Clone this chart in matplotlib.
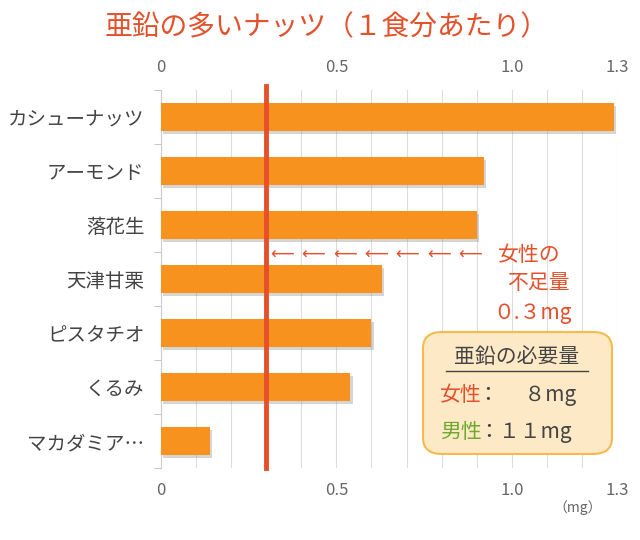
import matplotlib.pyplot as plt
import matplotlib.patheffects as pe
from matplotlib.patches import FancyBboxPatch
from matplotlib.lines import Line2D

plt.rcParams['font.family'] = ['Noto Sans CJK JP', 'DejaVu Sans']

nuts = ['カシューナッツ', 'アーモンド', '落花生', '天津甘栗', 'ピスタチオ', 'くるみ', 'マカダミア…']
zinc = [1.29, 0.92, 0.9, 0.63, 0.6, 0.54, 0.14]
shortfall = 0.3
xticks = [0, 0.5, 1.0, 1.3]
xlabels = ['0', '0.5', '1.0', '1.3']

red = '#e5502b'
green = '#6ea82c'
dark = '#444444'

fig = plt.figure(figsize=(6.4, 5.4), dpi=100)
ax = fig.add_axes([0.2516, 0.1333, 0.7125, 0.7])

ys = list(range(len(nuts)))
bars = ax.barh(ys, zinc, height=0.52, color='#f7921e', zorder=3)
for b in bars:
    b.set_path_effects([pe.SimplePatchShadow(offset=(1.5, -2), shadow_rgbFace='#888888', alpha=0.35),
                        pe.Normal()])

ax.axvline(shortfall, color=red, lw=3.5, zorder=4, ymin=0, ymax=1.01, clip_on=False)

ax.set_xlim(0, 1.3)
ax.set_ylim(len(nuts) - 0.5, -0.5)
ax.set_xticks(xticks)
ax.set_xticklabels(xlabels)
ax.set_xticks([i / 10 for i in range(14)], minor=True)
ax.grid(axis='x', which='both', color='#dddddd', lw=0.8, zorder=0)
ax.tick_params(axis='x', which='both', length=0, labelsize=12, labelcolor='#666666',
               top=True, labeltop=True, pad=10)
ax.set_yticks(ys)
ax.set_yticklabels(nuts, fontsize=14, color=dark)
ax.set_yticks([i + 0.5 for i in range(-1, len(nuts))], minor=True)
ax.tick_params(axis='y', which='major', length=0, pad=12)
ax.tick_params(axis='y', which='minor', length=5, color='#bbbbbb')
for s in ['top', 'right', 'bottom']:
    ax.spines[s].set_visible(False)
ax.spines['left'].set_color('#cccccc')

fig.text(0.511, 0.95, '亜鉛の多いナッツ（１食分あたり）', ha='center', va='center',
         fontsize=20, color=red)

# shortfall annotation
for i in range(7):
    ax.text(0.345 + i * 0.0895, 2.55, '⟵', color=red, fontsize=12, va='center', ha='center',
            family='DejaVu Sans', zorder=5)
ax.text(1.05, 2.55, '女性の', color=red, fontsize=15, va='center', ha='center', zorder=5)
ax.text(1.075, 3.08, '不足量', color=red, fontsize=15, va='center', ha='center', zorder=5)
ax.text(1.06, 3.63, '０.３mg', color=red, fontsize=15, va='center', ha='center', zorder=5)

# info box
box = FancyBboxPatch((423 / 640, 1 - 454 / 540), 189 / 640, 122 / 540,
                     boxstyle='round,pad=0,rounding_size=0.03', transform=fig.transFigure,
                     facecolor='#fde9c6', edgecolor='#f6b94c', lw=1.5, zorder=6)
fig.add_artist(box)
fig.text(517 / 640, 1 - 357 / 540, '亜鉛の必要量', ha='center', va='center', fontsize=15, color=dark, zorder=7)
fig.add_artist(Line2D([446 / 640, 588 / 640], [1 - 371 / 540, 1 - 371 / 540], color=dark, lw=1,
                      transform=fig.transFigure, zorder=7))
fig.text(440 / 640, 1 - 395 / 540, '女性', ha='left', va='center', fontsize=15, color=red, zorder=7)
fig.text(478 / 640, 1 - 395 / 540, '：　 ８mg', ha='left', va='center', fontsize=15, color=dark, zorder=7)
fig.text(440 / 640, 1 - 432 / 540, '男性', ha='left', va='center', fontsize=15, color=green, zorder=7)
fig.text(478 / 640, 1 - 432 / 540, '：１１mg', ha='left', va='center', fontsize=15, color=dark, zorder=7)

fig.text(578 / 640, 1 - 508 / 540, '（mg）', ha='center', va='center', fontsize=10, color='#666666')

fig.savefig('out.png', dpi=100)
